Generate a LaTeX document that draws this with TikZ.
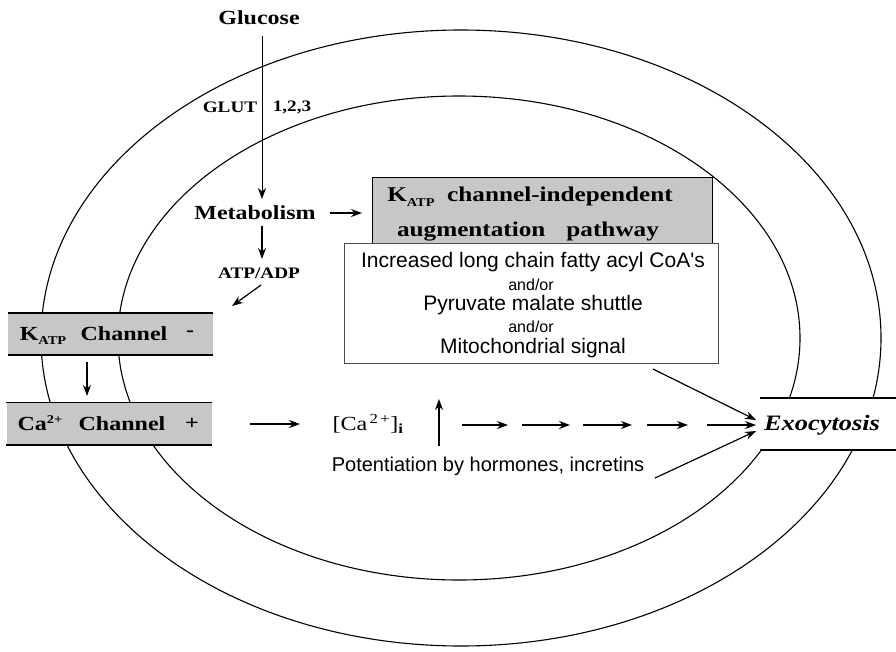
\documentclass[tikz,border=0pt]{standalone}
\usepackage{fontspec}
\setmainfont{Liberation Serif}
\newfontfamily\glab[FakeStretch=1.2]{Liberation Serif}
\newfontfamily\slab{Liberation Sans}
\usetikzlibrary{arrows.meta}
\definecolor{boxgray}{gray}{0.78}
\newcommand\lowtext[1]{\raisebox{-0.5ex}{\fontsize{12}{12}\selectfont #1}}
\newcommand\hightext[1]{\raisebox{0.75ex}{\fontsize{12}{12}\selectfont #1}}

\begin{document}
\begin{tikzpicture}[x=1pt,y=-1pt,
    lab/.style={font=\glab\bfseries\fontsize{20}{22}\selectfont,inner sep=0pt},
    smalllab/.style={font=\glab\bfseries\fontsize{16}{18}\selectfont,inner sep=0pt},
    txt/.style={font=\slab\fontsize{21}{24}\selectfont,inner sep=0pt},
    andor/.style={font=\slab\fontsize{16}{18}\selectfont,inner sep=0pt},
    arr/.style={-{Stealth[length=11pt,width=8pt]},line width=1.2pt},
    chanbox/.style={fill=boxgray,minimum width=205pt,minimum height=42pt,inner sep=0pt},
    rim/.style={line width=1.6pt}]
    \useasboundingbox (0,0) rectangle (896,651);
    % cell membranes
    \draw [line width=1.1pt] (461,338) ellipse [x radius=420pt, y radius=308pt];
    \draw [line width=1.1pt] (459,338) ellipse [x radius=341pt, y radius=242pt];
    % glucose entry
    \node [lab] (G) at (259,18) {Glucose};
    \node [smalllab] (GL) at (230,107) {GLUT};
    \node [smalllab] (GN) at (292,107) {1,2,3};
    \node [lab] (M) at (255,213) {Metabolism};
    \node [smalllab] (AD) at (259,273) {ATP/ADP};
    \coordinate (Gs) at (262,36);
    \coordinate (Mt) at (262,199);
    \draw [arr,line width=1pt] (Gs) -- (Mt);
    \coordinate (Mb) at (262,226);
    \coordinate (Ab) at (262,259);
    \draw [arr] (Mb) -- (Ab);
    \coordinate (As) at (261,285);
    \coordinate (Ae) at (232,306);
    \draw [arr] (As) -- (Ae);
    % channels
    \node [chanbox] (K) at (110.5,334) {};
    \draw [rim] (K.north west) -- (K.north east) (K.south west) -- (K.south east);
    \node [lab] (Kt) at (43,336) {K\lowtext{ATP}};
    \node [lab] (Kc) at (124,334) {Channel};
    \node [lab] (Km) at (190,334) {-};
    \node [chanbox] (C) at (109,423.5) {};
    \draw [rim] (C.north west) -- (C.north east) (C.south west) -- (C.south east);
    \node [lab] (Ct) at (40,423) {Ca\hightext{2+}};
    \node [lab] (Cc) at (122,424) {Channel};
    \node [lab] (Cp) at (192,424) {+};
    \coordinate (Ks) at (87,362);
    \coordinate (Ce) at (87,396);
    \draw [arr] (Ks) -- (Ce);
    % calcium rise
    \coordinate (Cs) at (250,424);
    \coordinate (Ci) at (300,424);
    \draw [arr] (Cs) -- (Ci);
    \node [font=\glab\fontsize{20}{22}\selectfont,inner sep=0pt] (Ca) at (368,424) {[Ca\textsuperscript{\,2\,+}]\textsubscript{\textbf{i}}};
    \coordinate (Ub) at (439,446);
    \coordinate (Ut) at (439,399);
    \draw [arr,line width=1.6pt] (Ub) -- (Ut);
    % augmentation pathway
    \node [draw,line width=0.9pt,fill=boxgray,minimum width=340pt,minimum height=68pt,inner sep=0pt] (KI) at (542,211) {};
    \node [lab,font=\glab\bfseries\fontsize{21}{22}\selectfont] (KI1) at (530,197) {K\lowtext{ATP}\ \ channel-independent};
    \node [lab,font=\glab\bfseries\fontsize{21}{22}\selectfont] (KI2) at (528,232) {augmentation\quad pathway};
    \node [draw=black!70,line width=0.9pt,fill=white,minimum width=374pt,minimum height=120pt,inner sep=0pt] (W) at (531,303) {};
    \node [txt] (W1) at (533,262) {Increased long chain fatty acyl CoA's};
    \node [andor] (W2) at (531,285) {and/or};
    \node [txt] (W3) at (533,305) {Pyruvate malate shuttle};
    \node [andor] (W4) at (531,327) {and/or};
    \node [txt] (W5) at (533,348) {Mitochondrial signal};
    \coordinate (Mk) at (362,213);
    \draw [arr] (M.east) ++(14,0) coordinate (Me) -- (Mk);
    % exocytosis
    \node [fill=white,minimum width=136pt,minimum height=52pt,inner sep=0pt] (E) at (828,424) {};
    \draw [rim] (E.north west) -- (E.north east) (E.south west) -- (E.south east);
    \node [font=\glab\bfseries\itshape\fontsize{22}{24}\selectfont,inner sep=0pt] (Et) at (822,425) {Exocytosis};
    \coordinate (E1) at (756,420);
    \coordinate (E2) at (756,425);
    \coordinate (E3) at (756,431);
    \coordinate (Ws) at (653,369);
    \draw [arr] (Ws) -- (E1);
    \foreach \s/\e in {462/508,522/570,583/632,647/688} {
        \coordinate (Ds) at (\s,425);
        \coordinate (De) at (\e,425);
        \draw [arr] (Ds) -- (De);
    }
    \coordinate (Ds) at (707,425);
    \draw [arr] (Ds) -- (E2);
    \node [txt,font=\slab\fontsize{20}{24}\selectfont] (P) at (488,466) {Potentiation by hormones, incretins};
    \coordinate (Ps) at (655,478);
    \draw [arr] (Ps) -- (E3);
\end{tikzpicture}
\end{document}
